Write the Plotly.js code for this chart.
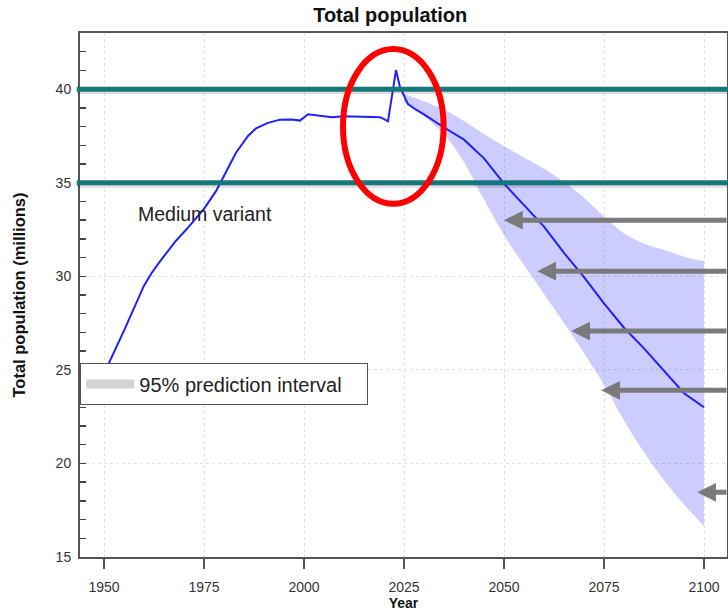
<!DOCTYPE html>
<html>
<head>
<meta charset="utf-8">
<script src="https://cdn.plot.ly/plotly-3.0.1.min.js"></script>
<style>
  html, body { margin: 0; padding: 0; background: #ffffff; }
  #chart { width: 728px; height: 611px; }
</style>
</head>
<body>
<div id="chart"></div>
<script>
// ---- Data (millions) ----
const medianYears = [1950, 1955, 1960, 1962, 1964, 1968, 1971, 1973, 1975, 1978, 1980, 1983, 1986, 1988, 1991, 1994, 1997, 1999, 2001, 2004, 2007, 2010, 2014, 2017, 2019, 2021, 2023, 2024, 2025, 2026, 2028, 2030, 2035, 2040, 2045, 2050, 2055, 2060, 2065, 2070, 2075, 2080, 2085, 2090, 2095, 2100];
const medianValues = [24.8, 27.1, 29.5, 30.2, 30.8, 31.9, 32.6, 33.1, 33.6, 34.55, 35.4, 36.6, 37.5, 37.9, 38.2, 38.37, 38.38, 38.32, 38.66, 38.6, 38.5, 38.55, 38.52, 38.5, 38.5, 38.29, 41.02, 40.1, 39.6, 39.2, 38.9, 38.65, 37.95, 37.3, 36.3, 34.95, 33.8, 32.65, 31.25, 29.95, 28.55, 27.25, 26.15, 24.95, 23.75, 23.0];

const intervalYears = [2025, 2030, 2035, 2040, 2045, 2050, 2055, 2060, 2065, 2070, 2075, 2080, 2085, 2090, 2095, 2100];
const intervalUpper = [39.75, 39.35, 38.9, 38.3, 37.6, 36.95, 36.35, 35.75, 35.05, 34.2, 33.2, 32.3, 31.75, 31.4, 31.05, 30.8];
const intervalLower = [39.3, 38.55, 37.6, 36.1, 34.1, 32.2, 30.6, 29.05, 27.5, 25.9, 24.2, 22.3, 20.6, 19.1, 17.8, 16.65];

const referenceLevels = [40, 35];
const arrowYears = [2050, 2058.3, 2066.8, 2074.3, 2098.3];
const arrowValues = [33.0, 30.27, 27.07, 23.91, 18.46];
const circleYears = [2009.75, 2034.9];
const circleValues = [33.87, 42.14];

const labelText = "Medium variant";
const labelPos = [1975.25, 33.32];
const legendLabel = "95% prediction interval";

// ---- Traces ----
const traces = [
  {
    x: intervalYears, y: intervalLower, type: 'scatter', mode: 'lines',
    line: { width: 0, color: 'rgba(0,0,255,0)', shape: 'spline', smoothing: 0.8 },
    hoverinfo: 'skip', showlegend: false
  },
  {
    x: intervalYears, y: intervalUpper, type: 'scatter', mode: 'lines',
    fill: 'tonexty', fillcolor: 'rgba(0,0,255,0.2)',
    line: { width: 0, color: 'rgba(0,0,255,0)', shape: 'spline', smoothing: 0.8 },
    hoverinfo: 'skip', showlegend: false
  },
  {
    x: medianYears, y: medianValues, type: 'scatter', mode: 'lines',
    line: { color: '#1f1fff', width: 2 },
    name: labelText, showlegend: false
  },
  {
    x: [null], y: [null], type: 'scatter', mode: 'lines',
    line: { color: '#d3d3d3', width: 9 },
    name: legendLabel, showlegend: true
  }
];

const shapes = [];
referenceLevels.forEach(v => {
  shapes.push({ type: 'line', xref: 'paper', yref: 'y', x0: -0.005, x1: 1.01, y0: v - 0.13, y1: v - 0.13,
    line: { color: 'rgba(0,0,0,0.13)', width: 5 } });
  shapes.push({ type: 'line', xref: 'paper', yref: 'y', x0: -0.005, x1: 1.01, y0: v, y1: v,
    line: { color: '#17767c', width: 5 } });
});
shapes.push({ type: 'circle', xref: 'x', yref: 'y', x0: circleYears[0], x1: circleYears[1], y0: circleValues[0], y1: circleValues[1],
  line: { color: '#ff0000', width: 6 } });

const annotations = [
  { x: labelPos[0], y: labelPos[1], xref: 'x', yref: 'y', text: labelText, showarrow: false,
    font: { family: 'Liberation Sans, Arial, sans-serif', size: 19.5, color: '#222' } }
];
arrowYears.forEach((yr, i) => {
  annotations.push({
    x: yr, y: arrowValues[i], xref: 'x', yref: 'y', text: '',
    showarrow: true, arrowhead: 2, arrowsize: 0.75, arrowwidth: 5, arrowcolor: '#7a7a7a',
    standoff: 0, axref: 'pixel', ayref: 'pixel',
    ax: 760 - (104 + (yr - 1950) * 4), ay: 0
  });
});

const axisFont = { family: 'Liberation Sans, Arial, sans-serif', size: 14, color: '#333' };

const layout = {
  width: 728, height: 611,
  margin: { l: 80, r: 1, t: 33, b: 54 },
  paper_bgcolor: '#ffffff', plot_bgcolor: '#ffffff',
  font: { family: 'Liberation Sans, Arial, sans-serif', color: '#222' },
  title: { text: '<b>Total population</b>', x: 0.536, xanchor: 'center', y: 0.975, yanchor: 'middle', yref: 'container',
    font: { family: 'Liberation Sans, Arial, sans-serif', size: 20, color: '#111' } },
  xaxis: {
    range: [1944, 2105.75], tick0: 1950, dtick: 25,
    ticks: 'outside', ticklen: 10, tickwidth: 1.5, tickcolor: '#555',
    showline: true, linecolor: '#555', linewidth: 2, mirror: true,
    showgrid: true, gridcolor: '#e2e2e2', griddash: 'dot', gridwidth: 1,
    zeroline: false, tickfont: axisFont, ticklabelstandoff: 6,
    title: { text: '<b>Year</b>', font: { family: 'Liberation Sans, Arial, sans-serif', size: 14, color: '#111' }, standoff: 4 }
  },
  yaxis: {
    range: [15, 43], tick0: 15, dtick: 5,
    ticks: 'inside', ticklen: 6, tickwidth: 1.5, tickcolor: '#444',
    minor: { dtick: 1, tick0: 15, ticks: 'inside', ticklen: 6, tickwidth: 1.5, tickcolor: '#444', showgrid: false },
    showline: true, linecolor: '#555', linewidth: 2, mirror: true,
    showgrid: true, gridcolor: '#e2e2e2', griddash: 'dot', gridwidth: 1,
    zeroline: false, tickfont: axisFont, ticklabelstandoff: 4,
    title: { text: '<b>Total population (millions)</b>', font: { family: 'Liberation Sans, Arial, sans-serif', size: 16.5, color: '#111' }, standoff: 26 }
  },
  showlegend: true,
  legend: {
    x: 0, y: 0.370, xanchor: 'left', yanchor: 'top', orientation: 'h',
    entrywidth: 222, entrywidthmode: 'pixels', itemwidth: 48,
    bgcolor: '#ffffff', bordercolor: '#555', borderwidth: 1.3,
    font: { family: 'Liberation Sans, Arial, sans-serif', size: 20, color: '#222' }
  },
  shapes: shapes,
  annotations: annotations
};

Plotly.newPlot('chart', traces, layout, { displayModeBar: false, staticPlot: true });
</script>
</body>
</html>
